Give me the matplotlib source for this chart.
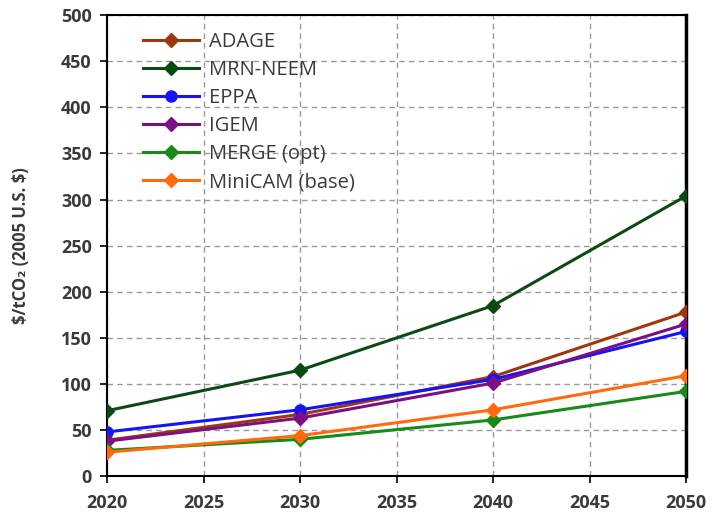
import matplotlib
matplotlib.use("Agg")
import matplotlib.pyplot as plt

years = [2020, 2030, 2040, 2050]
models = ["ADAGE", "MRN-NEEM", "EPPA", "IGEM", "MERGE (opt)", "MiniCAM (base)"]
adage = [39, 67, 108, 178]
mrn_neem = [71, 115, 185, 304]
eppa = [48, 72, 105, 157]
igem = [38, 63, 101, 165]
merge = [28, 40, 61, 92]
minicam = [26, 44, 72, 109]
series = [adage, mrn_neem, eppa, igem, merge, minicam]
colors = ["#a0360c", "#0b4a12", "#1414f5", "#7d0f86", "#178a17", "#ff6a0e"]
markers = ["D", "D", "o", "D", "D", "D"]

plt.rcParams['font.family'] = ['Open Sans', 'DejaVu Sans']
txt = "#3a3a3a"

fig = plt.figure(figsize=(7.14, 5.21), dpi=100)
ax = fig.add_axes([0.150, 0.086, 0.811, 0.885])

for name, vals, c, m in zip(models, series, colors, markers):
    ax.plot(years, vals, color=c, marker=m, markersize=7 if m == "D" else 8,
            linewidth=2.2, label=name, zorder=3)

ax.set_xlim(2020, 2050)
ax.set_ylim(0, 500)
ax.set_xticks(range(2020, 2051, 5))
ax.set_yticks(range(0, 501, 50))
ax.grid(True, linestyle=(0, (4, 3)), color="#999999", linewidth=1)
for s in ax.spines.values():
    s.set_color("black")
    s.set_linewidth(1.5)
ax.spines['right'].set_linewidth(2.5)
ax.tick_params(direction='out', length=5, width=1.2, colors="black",
               labelcolor=txt, labelsize=13, pad=6)
for lab in ax.get_xticklabels() + ax.get_yticklabels():
    lab.set_fontweight('bold')
ax.tick_params(axis='x', pad=8)
ax.set_ylabel("\\$/tCO\u2082 (2005 U.S. \\$)",
              fontsize=12, fontweight='bold', color=txt, labelpad=22)

leg = ax.legend(loc='upper left', bbox_to_anchor=(0.03, 1.003), frameon=False,
                fontsize=14.5, handlelength=2.8, labelspacing=0.4, handletextpad=0.5)
for t in leg.get_texts():
    t.set_color(txt)
    t.set_fontweight('medium')

fig.savefig("out.png", dpi=100)
